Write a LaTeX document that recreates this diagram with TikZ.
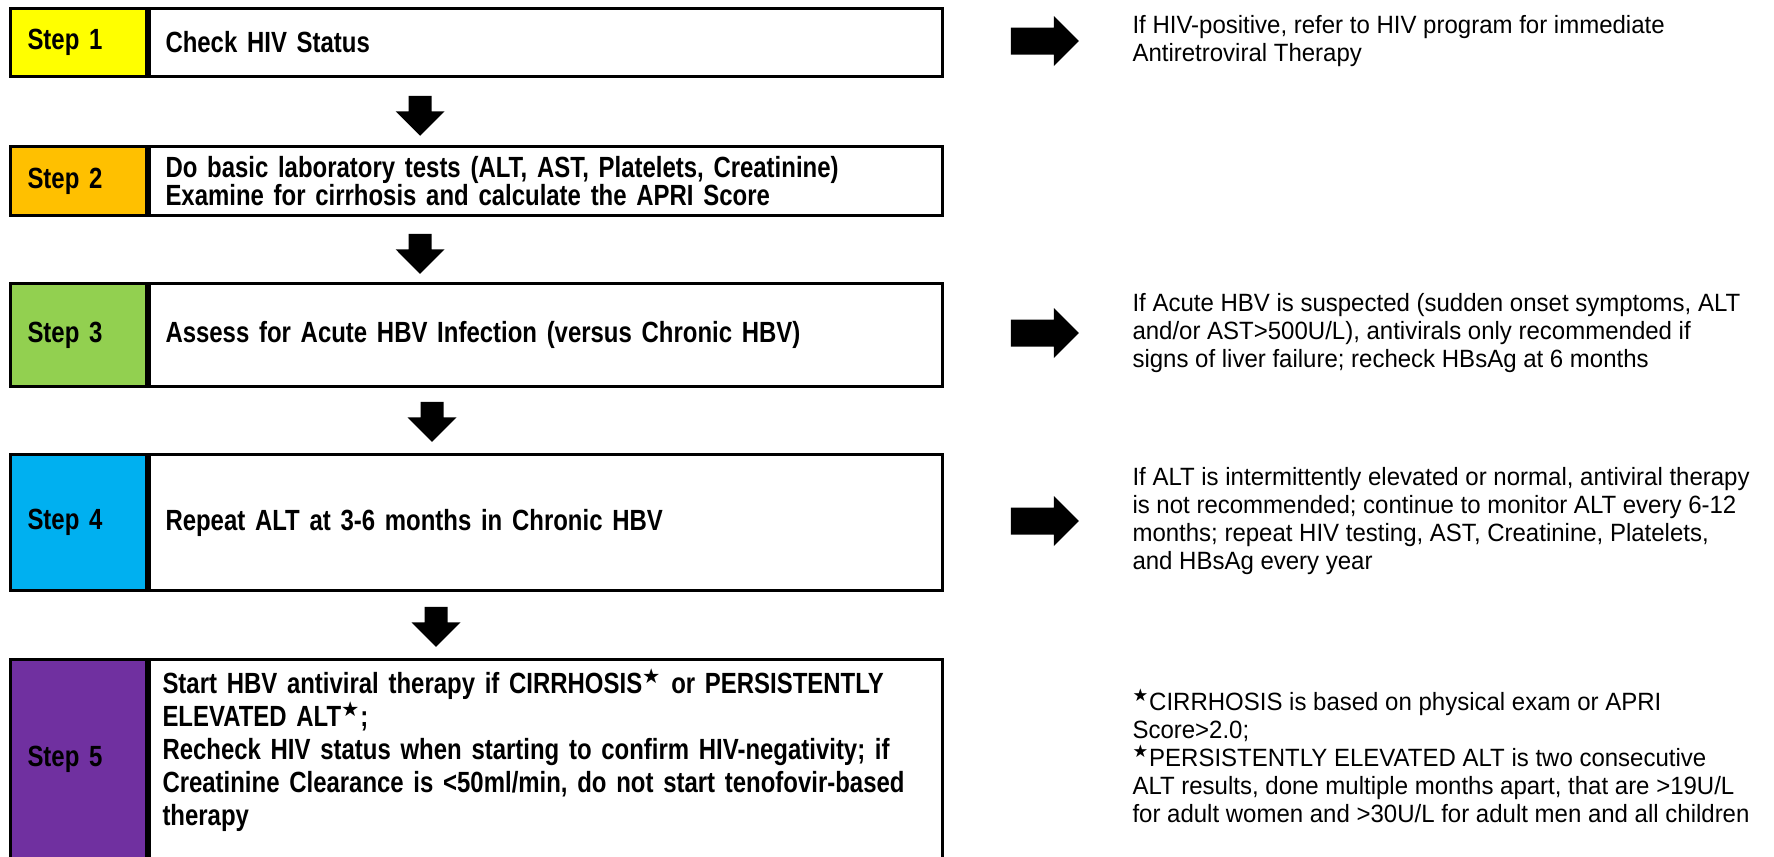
\documentclass[tikz,border=0pt]{standalone}
\usepackage{fontspec}
\setmainfont{Liberation Sans}[FakeStretch=0.82]
\newfontfamily\notefont{Liberation Sans}[FakeStretch=0.96]
\newfontfamily\starfont{DejaVu Sans}
\usetikzlibrary{shapes.arrows}
\definecolor{stepyellow}{HTML}{FFFF00}
\definecolor{steporange}{HTML}{FFC000}
\definecolor{stepgreen}{HTML}{92D050}
\definecolor{stepblue}{HTML}{00B0F0}
\definecolor{steppurple}{HTML}{7030A0}
\newcommand{\hstar}{\textsuperscript{\starfont ★}}

\begin{document}
\begin{tikzpicture}[x=0.5pt, y=-0.5pt, line width=1.5pt, font=\fontsize{14.6}{14}\selectfont,
  cell/.style={draw, anchor=north west, minimum width=68pt, inner xsep=8.5pt, inner ysep=0pt, text width=51pt, align=left, font=\bfseries\fontsize{14.6}{14}\selectfont},
  body/.style={draw, anchor=north west, minimum width=396.5pt, inner xsep=8pt, inner ysep=0pt, text width=380.5pt, align=left, font=\bfseries\fontsize{14.6}{14}\selectfont},
  sidenote/.style={anchor=west, inner sep=0pt, align=left, font=\notefont\fontsize{12.5}{14}\selectfont},
  downarrow/.style={single arrow, fill=black, draw=none, shape border rotate=270, minimum height=20pt, minimum width=23pt, single arrow head extend=6.5pt, inner sep=5pt},
  sidearrow/.style={single arrow, fill=black, draw=none, minimum height=34pt, minimum width=23.5pt, single arrow head extend=5.75pt, inner sep=6pt}]
\clip (0,0) rectangle (1774,857);

\node[cell, fill=stepyellow, minimum height=34pt] (s1) at (9,7) {Step 1};
\node[body, minimum height=34pt] (t1) at (s1.north east) {Check HIV Status};
\node[cell, fill=steporange, minimum height=34.5pt] (s2) at (9,145) {Step 2};
\node[body, minimum height=34.5pt] (t2) at (s2.north east) {Do basic laboratory tests (ALT, AST, Platelets, Creatinine)\\Examine for cirrhosis and calculate the APRI Score};
\node[cell, fill=stepgreen, minimum height=51.5pt] (s3) at (9,282) {Step 3};
\node[body, minimum height=51.5pt] (t3) at (s3.north east) {Assess for Acute HBV Infection (versus Chronic HBV)};
\node[cell, fill=stepblue, minimum height=68pt] (s4) at (9,453) {Step 4};
\node[body, minimum height=68pt] (t4) at (s4.north east) {Repeat ALT at 3-6 months in Chronic HBV};
\node[cell, fill=steppurple, minimum height=100pt] (s5) at (9,658) {Step 5};
\node[body, minimum height=100pt] (t5) at (s5.north east) {};
\node[anchor=north west, inner sep=0pt, text width=376.5pt, align=left, font=\bfseries\fontsize{14.6}{16.5}\selectfont] (t5text) at (161,667)
  {Start HBV antiviral therapy if CIRRHOSIS\hstar{} or PERSISTENTLY\\ELEVATED ALT\hstar;\\Recheck HIV status when starting to confirm HIV-negativity; if\\Creatinine Clearance is <50ml/min, do not start tenofovir-based\\therapy};

\foreach \y/\x [count=\i] in {110/420, 248/420, 416/432, 621/436}
  \node[downarrow] (ad\i) at (\x,\y) {};

\node[sidearrow] (ar1) at (1038,41) {};
\node[sidearrow] (ar3) at (1038,333) {};
\node[sidearrow] (ar4) at (1038,521) {};

\node[sidenote] (n1) at (1131,41) {If HIV-positive, refer to HIV program for immediate\\Antiretroviral Therapy};
\node[sidenote] (n3) at (1131,333) {If Acute HBV is suspected (sudden onset symptoms, ALT\\and/or AST>500U/L), antivirals only recommended if\\signs of liver failure; recheck HBsAg at 6 months};
\node[sidenote] (n4) at (1131,521) {If ALT is intermittently elevated or normal, antiviral therapy\\is not recommended; continue to monitor ALT every 6-12\\months; repeat HIV testing, AST, Creatinine, Platelets,\\and HBsAg every year};
\node[sidenote] (n5) at (1131,756) {\hstar CIRRHOSIS is based on physical exam or APRI\\Score>2.0;\\\hstar PERSISTENTLY ELEVATED ALT is two consecutive\\ALT results, done multiple months apart, that are >19U/L\\for adult women and >30U/L for adult men and all children};
\end{tikzpicture}
\end{document}
